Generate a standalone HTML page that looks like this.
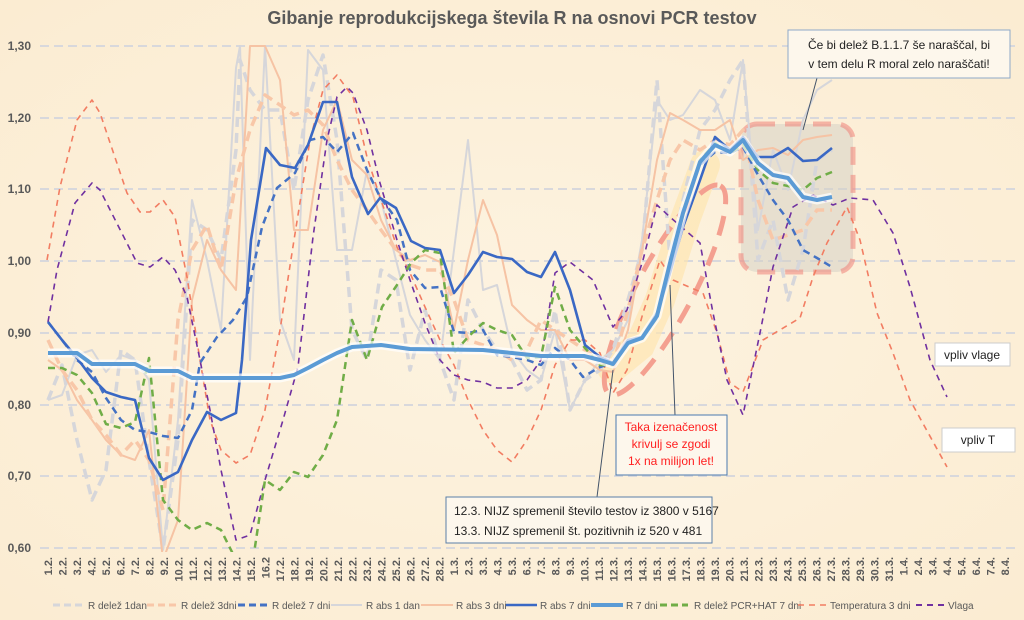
<!DOCTYPE html>
<html><head><meta charset="utf-8"><style>
html,body{margin:0;padding:0;width:1024px;height:620px;overflow:hidden;background:#fcf0da;}
svg{display:block;font-family:"Liberation Sans",sans-serif;}
.box{font-size:12px;fill:#222;}
</style></head><body>
<svg width="1024" height="620" viewBox="0 0 1024 620" xmlns="http://www.w3.org/2000/svg">
<defs>
<radialGradient id="bg" cx="50%" cy="50%" r="70%"><stop offset="0" stop-color="#fdf3e0"/><stop offset="1" stop-color="#fbecd2"/></radialGradient>
<clipPath id="pc"><rect x="38" y="44" width="980" height="508"/></clipPath>
</defs>
<rect width="1024" height="620" fill="url(#bg)"/>
<text x="512" y="24" text-anchor="middle" font-size="18" font-weight="bold" fill="#595959">Gibanje reprodukcijskega števila R na osnovi PCR testov</text>
<g stroke="#d8d8dc" stroke-width="2" stroke-dasharray="9,5">
<line x1="40" y1="46" x2="1015" y2="46"/><line x1="40" y1="118" x2="1015" y2="118"/><line x1="40" y1="189" x2="1015" y2="189"/><line x1="40" y1="261" x2="1015" y2="261"/><line x1="40" y1="333" x2="1015" y2="333"/><line x1="40" y1="405" x2="1015" y2="405"/><line x1="40" y1="476" x2="1015" y2="476"/><line x1="40" y1="548" x2="1015" y2="548"/>
</g>
<g font-size="12" font-weight="bold" fill="#595959" text-anchor="end">
<text x="31" y="50">1,30</text><text x="31" y="122">1,20</text><text x="31" y="193">1,10</text><text x="31" y="265">1,00</text><text x="31" y="337">0,90</text><text x="31" y="409">0,80</text><text x="31" y="480">0,70</text><text x="31" y="552">0,60</text>
</g>
<path d="M612,368 L640,345 L660,300 L685,220 L705,165" fill="none" stroke="#fde6b0" stroke-width="30" stroke-linecap="round" opacity="0.7"/>
<rect x="741" y="124" width="112" height="148" rx="16" fill="#d6d2c6" fill-opacity="0.55" stroke="#f08a80" stroke-opacity="0.6" stroke-width="5" stroke-dasharray="18,10"/>
<ellipse cx="665" cy="290" rx="118" ry="28" transform="rotate(-62 665 290)" fill="none" stroke="#f4a090" stroke-width="5" stroke-dasharray="20,12"/>
<g clip-path="url(#pc)" fill="none" stroke-linejoin="round">
<polyline stroke="#d6d6da" stroke-width="2" points="48,400 62,395 77,355 92,350 106,372 121,355 135,360 149,380 163,550 178,420 192,200 207,260 221,330 236,68 240,46 250,360 265,46 280,320 294,360 308,50 323,70 337,250 352,250 367,170 381,200 396,260 410,315 425,340 440,360 454,250 468,140 483,290 497,285 512,350 527,370 541,380 555,330 570,410 585,380 600,360 613,350 628,320 642,240 657,100 670,120 683,115 700,90 715,100 730,140 743,60 758,230 773,150 788,190 803,120 817,90 832,80"/>
<polyline stroke="#d6d6da" stroke-width="3.5" stroke-dasharray="10,6" points="48,400 62,365 77,440 92,500 106,470 121,350 135,360 149,460 163,550 178,440 192,220 207,230 221,260 236,150 240,60 250,90 265,110 280,110 294,190 308,100 323,55 337,140 352,330 367,360 381,270 396,280 410,370 425,310 440,360 454,400 468,300 483,330 497,350 512,360 527,390 541,380 555,310 570,410 585,380 600,370 613,350 628,300 642,250 657,80 670,260 683,200 700,130 715,110 730,80 743,60 758,260 773,220 788,300 803,250 817,160 832,150"/>
<polyline stroke="#f6c3a4" stroke-width="2" points="48,360 62,370 77,400 92,420 106,440 121,455 135,460 149,430 163,560 178,520 192,300 207,240 221,270 236,290 250,46 265,46 280,80 294,230 308,230 323,130 337,100 352,160 367,175 381,220 396,250 410,260 425,255 440,262 454,330 468,260 483,200 497,235 512,305 527,320 541,330 555,330 570,360 585,360 600,370 613,372 628,330 642,250 657,160 670,113 683,120 700,130 715,130 730,120 743,160 758,150 773,148 788,155 803,140 817,137 832,135"/>
<polyline stroke="#f8c7a8" stroke-width="3.5" stroke-dasharray="10,6" points="48,340 62,370 77,390 92,420 106,435 121,455 135,440 149,460 163,510 178,320 192,250 207,225 221,270 236,180 250,130 265,95 280,105 294,115 308,110 323,125 337,160 352,190 367,210 381,230 396,250 410,265 425,270 440,270 454,300 468,340 483,345 497,350 512,360 527,350 541,320 555,330 570,340 585,350 600,360 613,365 628,310 642,250 657,200 670,160 683,140 700,150 715,140 730,145 743,130 758,200 773,240 788,235 803,230 817,210 832,210"/>
<polyline stroke="#f27d62" stroke-width="1.6" stroke-dasharray="6,5" points="47,260 60,187 77,120 92,100 100,113 127,193 140,212 150,212 163,200 175,217 187,277 200,360 210,420 221,450 236,463 250,455 265,410 280,330 294,240 310,140 323,90 337,75 353,97 367,157 380,197 397,247 410,273 425,307 440,340 454,365 468,400 483,430 497,450 512,462 527,440 541,410 555,365 570,340 585,340 600,353 613,393 627,370 643,313 660,260 673,280 703,293 717,333 730,383 743,392 763,340 800,318 813,277 827,243 847,207 860,240 877,313 893,353 910,400 947,467"/>
<polyline stroke="#7030a0" stroke-width="1.6" stroke-dasharray="6,5" points="48,322 57,270 75,203 92,183 100,190 137,263 150,267 163,257 175,270 187,297 200,360 210,410 221,470 236,540 250,535 265,480 283,420 298,367 313,237 327,140 337,97 347,87 353,93 367,130 380,183 397,240 410,280 425,323 440,360 454,375 468,380 483,382 497,388 512,388 527,380 541,360 555,273 570,262 593,280 613,327 627,310 643,260 657,205 670,217 700,243 713,313 727,380 743,415 760,333 773,267 793,207 813,195 833,205 850,198 873,200 893,233 910,287 930,360 947,397"/>
<polyline stroke="#4472c4" stroke-width="2.5" stroke-dasharray="7,5" points="48,322 62,340 77,360 92,372 106,398 121,420 135,430 149,432 163,436 178,438 192,410 200,363 217,337 233,320 247,297 262,227 277,188 295,173 310,140 323,137 337,152 353,133 367,170 380,197 397,220 410,270 425,288 440,287 454,332 468,333 483,330 497,355 512,357 527,360 541,365 555,348 570,360 583,377 600,367 613,363 628,343 642,338 657,318 670,265 683,213 700,165 715,152 730,153 743,147 758,175 773,200 788,220 803,250 817,258 832,267"/>
<polyline stroke="#70ad47" stroke-width="2.5" stroke-dasharray="7,5" points="48,368 62,368 77,375 92,393 106,424 121,428 135,422 149,358 163,500 178,520 192,530 207,523 221,530 236,560 250,580 265,480 280,490 294,472 308,477 323,455 337,420 352,320 367,360 382,307 397,285 411,263 425,250 440,253 454,353 468,337 483,323 497,330 512,335 527,358 541,357 555,287 570,330 585,348 600,365 613,365 628,343 642,338 657,318 670,265 683,215 700,160 715,143 730,153 743,145 758,170 773,183 788,186 803,190 817,178 832,172"/>
<polyline stroke="#3a68c4" stroke-width="2.6" points="48,322 62,340 77,358 92,378 106,392 121,397 135,400 149,458 163,480 178,472 192,440 207,412 221,420 236,413 242,360 251,240 266,148 280,165 295,168 308,145 323,102 337,102 352,177 368,214 380,198 396,208 411,241 425,248 440,250 454,293 468,275 483,252 497,257 512,259 527,272 541,277 555,252 570,290 585,345 600,357 613,363 628,340 642,337 657,313 670,273 683,227 700,180 715,137 730,150 743,137 758,157 773,157 788,148 803,161 817,160 832,148"/>
<polyline stroke="#ffffff" stroke-opacity="0.7" stroke-width="9" points="48,353 77,353 92,364 135,364 149,371 178,371 192,378 280,378 294,375 308,368 323,360 337,353 352,347 381,345 410,349 483,350 512,353 541,356 584,356 600,360 613,364 628,343 642,338 657,316 670,263 683,213 700,162 715,145 730,152 743,140 758,163 773,175 788,178 803,197 817,200 832,197"/>
<polyline stroke="#5b9bd5" stroke-width="4" points="48,353 77,353 92,364 135,364 149,371 178,371 192,378 280,378 294,375 308,368 323,360 337,353 352,347 381,345 410,349 483,350 512,353 541,356 584,356 600,360 613,364 628,343 642,338 657,316 670,263 683,213 700,162 715,145 730,152 743,140 758,163 773,175 788,178 803,197 817,200 832,197"/>
</g>
<g stroke="#44546a" stroke-width="1"><line x1="817" y1="78" x2="803" y2="130"/><line x1="675" y1="415" x2="670" y2="285"/><line x1="597" y1="497" x2="613" y2="370"/></g>
<rect x="788" y="30" width="222" height="48" fill="#fdf7ec" stroke="#8ea9c9"/>
<text class="box" x="899" y="49" text-anchor="middle">Če bi delež B.1.1.7 še naraščal, bi</text>
<text class="box" x="899" y="68" text-anchor="middle">v tem delu R moral zelo naraščati!</text>
<rect x="616" y="415" width="111" height="60" fill="#fdf7ec" stroke="#4a7ab0"/>
<g font-size="12" fill="#ff2020" text-anchor="middle"><text x="671" y="431">Taka izenačenost</text><text x="671" y="448">krivulj se zgodi</text><text x="671" y="465">1x na milijon let!</text></g>
<rect x="446" y="497" width="266" height="46" fill="#fdf7ec" stroke="#5a7fa8"/>
<text class="box" x="454" y="515" font-size="11.5">12.3. NIJZ spremenil število testov iz 3800 v 5167</text>
<text class="box" x="454" y="535" font-size="11.5">13.3. NIJZ spremenil št. pozitivnih iz 520 v 481</text>
<rect x="935" y="343" width="75" height="23" fill="#fff" stroke="#ccc"/>
<text class="box" x="972" y="359" text-anchor="middle">vpliv vlage</text>
<rect x="942" y="428" width="73" height="24" fill="#fff" stroke="#ccc"/>
<text class="box" x="978" y="444" text-anchor="middle">vpliv T</text>
<g font-size="10" fill="#595959">
<line x1="53" y1="605" x2="85" y2="605" stroke="#d6d6da" stroke-width="3" stroke-dasharray="7,4"/><text x="88" y="609">R delež 1dan</text>
<line x1="147" y1="605" x2="178" y2="605" stroke="#f8c7a8" stroke-width="3" stroke-dasharray="7,4"/><text x="181" y="609">R delež 3dni</text>
<line x1="238" y1="605" x2="268" y2="605" stroke="#4472c4" stroke-width="3" stroke-dasharray="7,4"/><text x="272" y="609">R delež 7 dni</text>
<line x1="331" y1="605" x2="362" y2="605" stroke="#d6d6da" stroke-width="2"/><text x="366" y="609">R abs 1 dan</text>
<line x1="421" y1="605" x2="453" y2="605" stroke="#f6c3a4" stroke-width="2"/><text x="456" y="609">R abs 3 dni</text>
<line x1="506" y1="605" x2="537" y2="605" stroke="#3a68c4" stroke-width="2.5"/><text x="540" y="609">R abs 7 dni</text>
<line x1="591" y1="605" x2="623" y2="605" stroke="#5b9bd5" stroke-width="4"/><text x="626" y="609">R 7 dni</text>
<line x1="660" y1="605" x2="688" y2="605" stroke="#70ad47" stroke-width="3" stroke-dasharray="7,4"/><text x="694" y="609">R delež PCR+HAT 7 dni</text>
<line x1="798" y1="605" x2="827" y2="605" stroke="#f27d62" stroke-width="1.6" stroke-dasharray="6,5"/><text x="830" y="609">Temperatura 3 dni</text>
<line x1="916" y1="605" x2="945" y2="605" stroke="#7030a0" stroke-width="2" stroke-dasharray="6,5"/><text x="948" y="609">Vlaga</text>
</g>
<g font-size="11" font-weight="bold" fill="#595959" text-anchor="end">
<text transform="translate(52,557) rotate(-90)">1.2.</text><text transform="translate(66.5,557) rotate(-90)">2.2.</text><text transform="translate(81,557) rotate(-90)">3.2.</text><text transform="translate(95.5,557) rotate(-90)">4.2.</text><text transform="translate(110,557) rotate(-90)">5.2.</text><text transform="translate(124.5,557) rotate(-90)">6.2.</text><text transform="translate(139,557) rotate(-90)">7.2.</text><text transform="translate(153.5,557) rotate(-90)">8.2.</text><text transform="translate(168,557) rotate(-90)">9.2.</text><text transform="translate(182.5,557) rotate(-90)">10.2.</text><text transform="translate(197,557) rotate(-90)">11.2.</text><text transform="translate(211.5,557) rotate(-90)">12.2.</text><text transform="translate(226,557) rotate(-90)">13.2.</text><text transform="translate(240.5,557) rotate(-90)">14.2.</text><text transform="translate(255,557) rotate(-90)">15.2.</text><text transform="translate(269.5,557) rotate(-90)">16.2</text><text transform="translate(284,557) rotate(-90)">17.2.</text><text transform="translate(298.5,557) rotate(-90)">18.2.</text><text transform="translate(313,557) rotate(-90)">19.2.</text><text transform="translate(327.5,557) rotate(-90)">20.2.</text><text transform="translate(342,557) rotate(-90)">21.2.</text><text transform="translate(356.5,557) rotate(-90)">22.2.</text><text transform="translate(371,557) rotate(-90)">23.2.</text><text transform="translate(385.5,557) rotate(-90)">24.2.</text><text transform="translate(400,557) rotate(-90)">25.2.</text><text transform="translate(414.5,557) rotate(-90)">26.2.</text><text transform="translate(429,557) rotate(-90)">27.2.</text><text transform="translate(443.5,557) rotate(-90)">28.2.</text><text transform="translate(458,557) rotate(-90)">1.3.</text><text transform="translate(472.5,557) rotate(-90)">2.3.</text><text transform="translate(487,557) rotate(-90)">3.3.</text><text transform="translate(501.5,557) rotate(-90)">4.3.</text><text transform="translate(516,557) rotate(-90)">5.3.</text><text transform="translate(530.5,557) rotate(-90)">6.3.</text><text transform="translate(545,557) rotate(-90)">7.3.</text><text transform="translate(559.5,557) rotate(-90)">8.3.</text><text transform="translate(574,557) rotate(-90)">9.3.</text><text transform="translate(588.5,557) rotate(-90)">10.3.</text><text transform="translate(603,557) rotate(-90)">11.3.</text><text transform="translate(617.5,557) rotate(-90)">12.3.</text><text transform="translate(632,557) rotate(-90)">13.3.</text><text transform="translate(646.5,557) rotate(-90)">14.3.</text><text transform="translate(661,557) rotate(-90)">15.3.</text><text transform="translate(675.5,557) rotate(-90)">16.3.</text><text transform="translate(690,557) rotate(-90)">17.3.</text><text transform="translate(704.5,557) rotate(-90)">18.3.</text><text transform="translate(719,557) rotate(-90)">19.3.</text><text transform="translate(733.5,557) rotate(-90)">20.3.</text><text transform="translate(748,557) rotate(-90)">21.3.</text><text transform="translate(762.5,557) rotate(-90)">22.3.</text><text transform="translate(777,557) rotate(-90)">23.3.</text><text transform="translate(791.5,557) rotate(-90)">24.3.</text><text transform="translate(806,557) rotate(-90)">25.3.</text><text transform="translate(820.5,557) rotate(-90)">26.3.</text><text transform="translate(835,557) rotate(-90)">27.3.</text><text transform="translate(849.5,557) rotate(-90)">28.3.</text><text transform="translate(864,557) rotate(-90)">29.3.</text><text transform="translate(878.5,557) rotate(-90)">30.3.</text><text transform="translate(893,557) rotate(-90)">31.3.</text><text transform="translate(907.5,557) rotate(-90)">1.4.</text><text transform="translate(922,557) rotate(-90)">2.4.</text><text transform="translate(936.5,557) rotate(-90)">3.4.</text><text transform="translate(951,557) rotate(-90)">4.4.</text><text transform="translate(965.5,557) rotate(-90)">5.4.</text><text transform="translate(980,557) rotate(-90)">6.4.</text><text transform="translate(994.5,557) rotate(-90)">7.4.</text><text transform="translate(1009,557) rotate(-90)">8.4.</text>
</g>
</svg>
</body></html>
